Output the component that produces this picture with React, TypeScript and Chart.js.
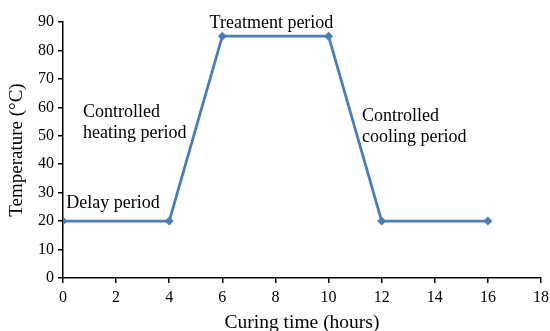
import React, { useEffect, useRef } from "react";
import { Chart, registerables } from "chart.js";

Chart.register(...registerables);

const hours = [0, 4, 6, 10, 12, 16];
const temperature = [20, 20, 85, 85, 20, 20];
const xTicks = [0, 2, 4, 6, 8, 10, 12, 14, 16, 18];
const yTicks = [0, 10, 20, 30, 40, 50, 60, 70, 80, 90];

const annotations = [
  { text: "Delay period", x: 0.12, y: 26.3, align: "left" },
  { text: "Controlled", x: 0.75, y: 58.2, align: "left" },
  { text: "heating period", x: 0.75, y: 51.0, align: "left" },
  { text: "Treatment period", x: 7.85, y: 89.5, align: "center" },
  { text: "Controlled", x: 11.26, y: 57, align: "left" },
  { text: "cooling period", x: 11.26, y: 49.5, align: "left" },
];

const FONT = "'Liberation Serif', 'Times New Roman', serif";

const textPlugin = {
  id: "periodText",
  afterDatasetsDraw(chart: any) {
    const { ctx, scales } = chart;
    ctx.save();
    ctx.font = `18px ${FONT}`;
    ctx.fillStyle = "#000";
    ctx.textBaseline = "middle";
    for (const a of annotations) {
      ctx.textAlign = a.align;
      ctx.fillText(a.text, scales.x.getPixelForValue(a.x), scales.y.getPixelForValue(a.y));
    }
    ctx.restore();
  },
};

export default function App() {
  const ref = useRef<HTMLCanvasElement>(null);
  useEffect(() => {
    const chart = new Chart(ref.current!, {
      type: "line",
      data: {
        datasets: [
          {
            data: hours.map((h, i) => ({ x: h, y: temperature[i] })),
            borderColor: "#4A7EBB",
            backgroundColor: "#4A7EBB",
            borderWidth: 2.8,
            pointStyle: "rectRot",
            pointRadius: 4.5,
            pointBorderWidth: 0,
            tension: 0,
          },
        ],
      },
      options: {
        responsive: false,
        animation: false,
        layout: { padding: { left: 0, right: 9, top: 22, bottom: 0 } },
        plugins: { legend: { display: false }, tooltip: { enabled: false } },
        scales: {
          x: {
            type: "linear",
            min: 0,
            max: 18,
            afterBuildTicks: (s: any) => {
              s.ticks = xTicks.map((v) => ({ value: v }));
            },
            afterFit: (s: any) => {
              s.height = 53;
              s.paddingLeft = 0;
              s.paddingRight = 0;
            },
            grid: { drawOnChartArea: false, drawTicks: true, tickLength: 5, color: "#000", lineWidth: 1.5 },
            border: { display: true, color: "#000", width: 1.5 },
            ticks: { color: "#000", font: { family: FONT, size: 16 }, padding: 5, maxRotation: 0 },
            title: {
              display: true,
              text: "Curing time (hours)",
              color: "#000",
              font: { family: FONT, size: 19.5 },
              padding: { top: 1, bottom: -4 },
            },
          },
          y: {
            type: "linear",
            min: 0,
            max: 90,
            afterBuildTicks: (s: any) => {
              s.ticks = yTicks.map((v) => ({ value: v }));
            },
            afterFit: (s: any) => {
              s.width = 63;
              s.paddingTop = 0;
              s.paddingBottom = 0;
            },
            grid: { drawOnChartArea: false, drawTicks: true, tickLength: 5, color: "#000", lineWidth: 1.5 },
            border: { display: true, color: "#000", width: 1.5 },
            ticks: { color: "#000", font: { family: FONT, size: 16 }, padding: 4 },
            title: {
              display: true,
              text: "Temperature (°C)",
              color: "#000",
              font: { family: FONT, size: 19 },
              padding: { top: 6, bottom: 0 },
            },
          },
        },
      },
      plugins: [textPlugin],
    });
    return () => chart.destroy();
  }, []);
  return (
    <div style={{ position: "absolute", left: 0, top: 0, width: 550, height: 331, background: "#fff" }}>
      <canvas ref={ref} width={550} height={331} />
    </div>
  );
}
